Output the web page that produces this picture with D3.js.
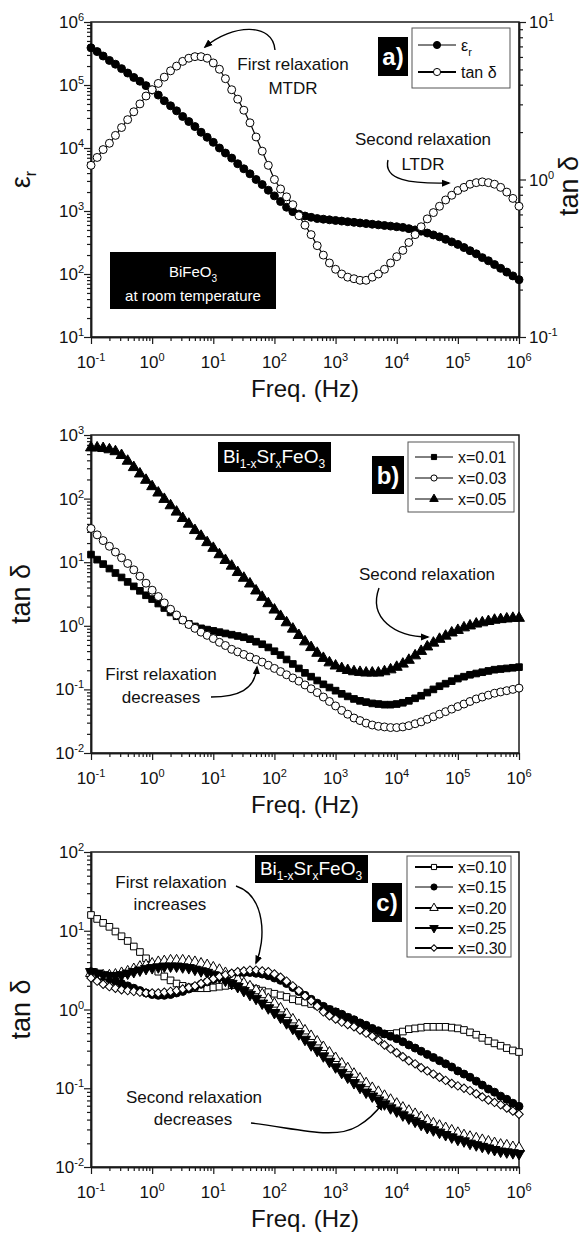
<!DOCTYPE html>
<html>
<head>
<meta charset="utf-8">
<script src="https://cdn.jsdelivr.net/npm/d3@7"></script>
<style>
  body { margin: 0; background: #fff; }
  svg { display: block; }
  text { font-family: "Liberation Sans", Arial, sans-serif; fill: #111; }
</style>
</head>
<body>
<svg id="chart" width="587" height="1235"></svg>
<script>
// measurement grid, 10 points per decade
var freq = [0.1,0.126,0.158,0.2,0.251,0.316,0.398,0.501,0.631,0.794,
  1,1.26,1.58,2,2.51,3.16,3.98,5.01,6.31,7.94,
  10,12.6,15.8,20,25.1,31.6,39.8,50.1,63.1,79.4,
  100,126,158,200,251,316,398,501,631,794,
  1e3,1.26e3,1.58e3,2e3,2.51e3,3.16e3,3.98e3,5.01e3,6.31e3,7.94e3,
  1e4,1.26e4,1.58e4,2e4,2.51e4,3.16e4,3.98e4,5.01e4,6.31e4,7.94e4,
  1e5,1.26e5,1.58e5,2e5,2.51e5,3.16e5,3.98e5,5.01e5,6.31e5,7.94e5,
  1e6];

// a) BiFeO3
var epsLog = [5.59,5.53,5.46,5.39,5.33,5.26,5.19,5.12,5.06,4.99,
  4.92,4.84,4.75,4.67,4.59,4.50,4.42,4.34,4.25,4.17,
  4.09,4.00,3.92,3.84,3.75,3.67,3.59,3.50,3.42,3.33,
  3.24,3.15,3.06,2.99,2.95,2.92,2.90,2.88,2.87,2.86,
  2.85,2.84,2.83,2.82,2.81,2.80,2.79,2.78,2.77,2.76,
  2.75,2.74,2.72,2.70,2.68,2.65,2.62,2.59,2.55,2.51,
  2.47,2.42,2.37,2.32,2.26,2.21,2.15,2.09,2.03,1.97,
  1.91];
var tanALog = [0.09,0.14,0.19,0.23,0.28,0.33,0.38,0.43,0.48,0.53,
  0.57,0.61,0.65,0.69,0.72,0.75,0.77,0.78,0.78,0.77,
  0.74,0.70,0.64,0.57,0.51,0.44,0.36,0.27,0.18,0.09,
  0.00,-0.06,-0.11,-0.16,-0.23,-0.29,-0.35,-0.42,-0.48,-0.53,
  -0.57,-0.60,-0.62,-0.63,-0.64,-0.64,-0.62,-0.60,-0.57,-0.53,
  -0.49,-0.45,-0.40,-0.35,-0.30,-0.25,-0.21,-0.17,-0.13,-0.10,
  -0.07,-0.05,-0.03,-0.02,-0.015,-0.02,-0.03,-0.05,-0.08,-0.12,
  -0.17];

// b) Bi1-xSrxFeO3, x = 0.01, 0.03, 0.05
var tanB001 = [1.12,1.04,0.97,0.90,0.83,0.76,0.69,0.62,0.55,0.48,
  0.42,0.35,0.28,0.21,0.15,0.09,0.03,-0.01,-0.04,-0.06,
  -0.08,-0.10,-0.12,-0.14,-0.16,-0.18,-0.21,-0.25,-0.29,-0.34,
  -0.40,-0.46,-0.53,-0.60,-0.67,-0.74,-0.80,-0.86,-0.92,-0.97,
  -1.02,-1.07,-1.11,-1.15,-1.18,-1.20,-1.22,-1.23,-1.24,-1.24,
  -1.23,-1.21,-1.18,-1.14,-1.10,-1.05,-1.00,-0.95,-0.91,-0.87,
  -0.83,-0.80,-0.77,-0.75,-0.73,-0.71,-0.69,-0.68,-0.67,-0.66,
  -0.65];
var tanB003 = [1.53,1.43,1.34,1.25,1.16,1.07,0.98,0.88,0.78,0.67,
  0.56,0.46,0.36,0.26,0.17,0.09,0.02,-0.04,-0.10,-0.15,
  -0.20,-0.26,-0.31,-0.37,-0.41,-0.45,-0.49,-0.53,-0.57,-0.62,
  -0.67,-0.72,-0.77,-0.82,-0.87,-0.93,-0.99,-1.05,-1.12,-1.19,
  -1.26,-1.33,-1.39,-1.45,-1.49,-1.53,-1.56,-1.58,-1.59,-1.60,
  -1.60,-1.59,-1.57,-1.54,-1.51,-1.47,-1.43,-1.39,-1.35,-1.31,
  -1.27,-1.23,-1.19,-1.15,-1.12,-1.09,-1.06,-1.04,-1.02,-1.00,
  -0.98];
var tanB005 = [2.80,2.80,2.79,2.77,2.74,2.68,2.59,2.49,2.39,2.29,
  2.19,2.09,1.99,1.89,1.79,1.69,1.60,1.50,1.41,1.31,
  1.22,1.12,1.03,0.94,0.84,0.75,0.66,0.55,0.45,0.35,
  0.25,0.15,0.05,-0.05,-0.15,-0.25,-0.34,-0.43,-0.51,-0.58,
  -0.63,-0.67,-0.70,-0.72,-0.73,-0.74,-0.74,-0.74,-0.72,-0.69,
  -0.65,-0.60,-0.54,-0.47,-0.40,-0.33,-0.27,-0.21,-0.16,-0.11,
  -0.07,-0.03,0.00,0.03,0.05,0.07,0.09,0.10,0.11,0.12,
  0.12];

// c) Bi1-xSrxFeO3, x = 0.10 ... 0.30
var tanC010 = [1.20,1.15,1.10,1.05,0.99,0.93,0.87,0.80,0.73,0.65,
  0.56,0.48,0.42,0.37,0.33,0.30,0.28,0.27,0.27,0.27,
  0.28,0.29,0.30,0.31,0.31,0.30,0.28,0.26,0.24,0.22,
  0.20,0.18,0.16,0.13,0.11,0.09,0.07,0.05,0.03,0.00,
  -0.03,-0.07,-0.10,-0.14,-0.18,-0.22,-0.26,-0.29,-0.31,-0.31,
  -0.30,-0.28,-0.25,-0.24,-0.23,-0.22,-0.22,-0.22,-0.22,-0.23,
  -0.24,-0.26,-0.29,-0.32,-0.36,-0.40,-0.43,-0.46,-0.49,-0.52,
  -0.54];
var tanC015 = [0.48,0.45,0.42,0.39,0.36,0.33,0.30,0.27,0.24,0.21,
  0.19,0.18,0.18,0.19,0.21,0.23,0.26,0.29,0.32,0.35,
  0.38,0.41,0.43,0.45,0.46,0.47,0.47,0.46,0.45,0.43,
  0.40,0.37,0.33,0.28,0.23,0.18,0.13,0.08,0.04,0.00,
  -0.03,-0.06,-0.10,-0.13,-0.17,-0.20,-0.24,-0.27,-0.31,-0.34,
  -0.37,-0.41,-0.45,-0.49,-0.53,-0.57,-0.61,-0.65,-0.69,-0.73,
  -0.78,-0.82,-0.86,-0.91,-0.96,-1.01,-1.05,-1.10,-1.14,-1.19,
  -1.23];
var tanC020 = [0.46,0.44,0.43,0.43,0.44,0.46,0.48,0.51,0.54,0.56,
  0.58,0.60,0.61,0.62,0.62,0.62,0.61,0.60,0.58,0.56,
  0.53,0.50,0.46,0.42,0.38,0.33,0.29,0.24,0.19,0.13,
  0.07,0.01,-0.06,-0.13,-0.20,-0.27,-0.34,-0.41,-0.48,-0.55,
  -0.62,-0.69,-0.75,-0.82,-0.88,-0.94,-1.00,-1.05,-1.10,-1.15,
  -1.20,-1.25,-1.29,-1.33,-1.37,-1.41,-1.45,-1.48,-1.51,-1.54,
  -1.57,-1.60,-1.62,-1.64,-1.66,-1.68,-1.70,-1.72,-1.73,-1.75,
  -1.76];
var tanC025 = [0.48,0.46,0.44,0.43,0.43,0.44,0.46,0.48,0.50,0.52,
  0.53,0.54,0.55,0.55,0.55,0.54,0.53,0.51,0.49,0.47,
  0.44,0.41,0.37,0.33,0.29,0.24,0.19,0.14,0.08,0.02,
  -0.04,-0.10,-0.17,-0.24,-0.31,-0.38,-0.45,-0.52,-0.59,-0.66,
  -0.73,-0.80,-0.86,-0.93,-0.99,-1.05,-1.10,-1.15,-1.20,-1.25,
  -1.29,-1.34,-1.38,-1.42,-1.46,-1.50,-1.53,-1.56,-1.59,-1.62,
  -1.65,-1.67,-1.70,-1.72,-1.74,-1.76,-1.78,-1.80,-1.81,-1.82,
  -1.83];
var tanC030 = [0.40,0.36,0.32,0.29,0.27,0.25,0.24,0.23,0.22,0.21,
  0.21,0.21,0.22,0.23,0.24,0.26,0.28,0.30,0.33,0.36,
  0.39,0.42,0.44,0.46,0.48,0.49,0.50,0.50,0.49,0.48,
  0.45,0.41,0.36,0.30,0.24,0.17,0.11,0.04,-0.03,-0.08,
  -0.12,-0.16,-0.19,-0.22,-0.26,-0.30,-0.34,-0.39,-0.45,-0.50,
  -0.55,-0.60,-0.65,-0.69,-0.74,-0.78,-0.82,-0.86,-0.90,-0.94,
  -0.97,-1.00,-1.03,-1.07,-1.11,-1.15,-1.18,-1.21,-1.25,-1.29,
  -1.33];

var legendB = ["x=0.01", "x=0.03", "x=0.05"];
var legendC = ["x=0.10", "x=0.15", "x=0.20", "x=0.25", "x=0.30"];

var svg = d3.select("#chart");
var left = 91, right = 519;
var x = d3.scaleLog().domain([0.1, 1e6]).range([left, right]);
var ink = "#1a1a1a";

var defs = svg.append("defs");
defs.append("marker")
    .attr("id", "head")
    .attr("viewBox", "0 0 10 10")
    .attr("refX", 8).attr("refY", 5)
    .attr("markerWidth", 9).attr("markerHeight", 9)
    .attr("markerUnits", "userSpaceOnUse")
    .attr("orient", "auto")
  .append("path")
    .attr("d", "M0,1 L10,5 L0,9 Z")
    .attr("fill", "#000");

////////// helpers //////////

function powText(sel, e) {
  sel.append("tspan").text("10");
  sel.append("tspan").attr("dy", -7).attr("font-size", 11).text(e < 0 ? "-" + (-e) : e);
}

function logTicks(lo, hi) {
  var majors = [], minors = [];
  for (var e = lo; e <= hi; e++) {
    majors.push(Math.pow(10, e));
    if (e < hi) for (var m = 2; m < 10; m++) minors.push(m * Math.pow(10, e));
  }
  return {majors: majors, minors: minors};
}

function styleAxis(g) {
  g.select(".domain").attr("stroke", ink).attr("stroke-width", 1.5);
  g.selectAll(".tick line").attr("stroke", ink).attr("stroke-width", 1.2);
}

function drawAxes(top, bottom, y, ylo, yhi, yTitle) {
  var g = svg.append("g");
  var tx = logTicks(-1, 6);

  // frame
  g.append("rect")
    .attr("x", left).attr("y", top)
    .attr("width", right - left).attr("height", bottom - top)
    .attr("fill", "none").attr("stroke", ink).attr("stroke-width", 1.5);

  // x axis
  g.append("g").attr("transform", "translate(0," + bottom + ")")
    .call(d3.axisBottom(x).tickValues(tx.minors).tickSize(4).tickSizeOuter(0).tickFormat(""))
    .call(styleAxis);
  g.append("g").attr("transform", "translate(0," + bottom + ")")
    .call(d3.axisBottom(x).tickValues(tx.majors).tickSize(7).tickSizeOuter(0).tickFormat(""))
    .call(styleAxis);
  tx.majors.forEach(function(v, i) {
    g.append("text")
      .attr("x", x(v)).attr("y", bottom + 31)
      .attr("text-anchor", "middle").attr("font-size", 17)
      .call(powText, i - 1);
  });
  g.append("text")
    .attr("x", (left + right) / 2).attr("y", bottom + 60)
    .attr("text-anchor", "middle").attr("font-size", 24)
    .text("Freq. (Hz)");

  // left y axis
  var ty = logTicks(ylo, yhi);
  g.append("g").attr("transform", "translate(" + left + ",0)")
    .call(d3.axisLeft(y).tickValues(ty.minors).tickSize(4).tickSizeOuter(0).tickFormat(""))
    .call(styleAxis);
  g.append("g").attr("transform", "translate(" + left + ",0)")
    .call(d3.axisLeft(y).tickValues(ty.majors).tickSize(7).tickSizeOuter(0).tickFormat(""))
    .call(styleAxis);
  ty.majors.forEach(function(v, i) {
    g.append("text")
      .attr("x", left - 7).attr("y", y(v) + 6)
      .attr("text-anchor", "end").attr("font-size", 17)
      .call(powText, ylo + i);
  });

  var t = g.append("text")
    .attr("transform", "translate(30," + (top + bottom) / 2 + ") rotate(-90)")
    .attr("text-anchor", "middle").attr("font-size", 27);
  yTitle(t);
  return g;
}

var shapes = {
  circle: {type: d3.symbolCircle, size: 50, rot: 0},
  square: {type: d3.symbolSquare, size: 44, rot: 0},
  triUp: {type: d3.symbolTriangle, size: 52, rot: 0},
  triDown: {type: d3.symbolTriangle, size: 52, rot: 180},
  diamond: {type: d3.symbolSquare, size: 36, rot: 45}
};

function drawSeries(g, y, logs, shape, filled, lw) {
  var pts = freq.map(function(f, i) { return [x(f), y(Math.pow(10, logs[i]))]; });
  g.append("path")
    .attr("d", d3.line()(pts))
    .attr("fill", "none").attr("stroke", "#000").attr("stroke-width", lw);
  var s = shapes[shape];
  g.append("g").selectAll("path")
    .data(pts)
    .enter().append("path")
      .attr("transform", function(d) { return "translate(" + d[0] + "," + d[1] + ") rotate(" + s.rot + ")"; })
      .attr("d", d3.symbol().type(s.type).size(s.size))
      .attr("fill", filled ? "#000" : "#fff")
      .attr("stroke", "#000").attr("stroke-width", 1);
}

function legendRow(g, x0, yy, shape, filled, lw, label, size) {
  var s = shapes[shape];
  g.append("line")
    .attr("x1", x0).attr("x2", x0 + 38).attr("y1", yy).attr("y2", yy)
    .attr("stroke", "#000").attr("stroke-width", lw);
  g.append("path")
    .attr("transform", "translate(" + (x0 + 19) + "," + yy + ") rotate(" + s.rot + ")")
    .attr("d", d3.symbol().type(s.type).size(size || s.size * 0.6))
    .attr("fill", filled ? "#000" : "#fff").attr("stroke", "#000");
  var t = g.append("text").attr("x", x0 + 43).attr("y", yy + 6).attr("font-size", 16);
  if (typeof label === "function") label(t); else t.text(label);
}

function blackBox(g, bx, by, bw, bh) {
  g.append("rect").attr("x", bx).attr("y", by).attr("width", bw).attr("height", bh).attr("fill", "#000");
}

function arrow(g, d) {
  g.append("path").attr("d", d)
    .attr("fill", "none").attr("stroke", "#000").attr("stroke-width", 1.4)
    .attr("marker-end", "url(#head)");
}

// chemical formula with subscripts: pieces alternate normal / subscript
function formula(t, pieces, subSize) {
  var shift = 0;
  pieces.forEach(function(p, i) {
    var isSub = i % 2 === 1;
    var dy = isSub ? 5 : (shift ? -5 : 0);
    var ts = t.append("tspan").attr("dy", dy).text(p);
    if (isSub) ts.attr("font-size", subSize);
    shift = isSub ? 1 : 0;
  });
}

////////// panel a //////////

var yA = d3.scaleLog().domain([10, 1e6]).range([337, 22]);
var yA2 = d3.scaleLog().domain([0.1, 10]).range([337, 22]);
var gA = drawAxes(22, 337, yA, 1, 6, function(t) {
  t.append("tspan").text("\u03b5");
  t.append("tspan").attr("dy", 6).attr("font-size", 16).text("r");
});

// right axis for tan delta
var tr = logTicks(-1, 1);
gA.append("g").attr("transform", "translate(" + right + ",0)")
  .call(d3.axisRight(yA2).tickValues(tr.minors).tickSize(4).tickSizeOuter(0).tickFormat(""))
  .call(styleAxis);
gA.append("g").attr("transform", "translate(" + right + ",0)")
  .call(d3.axisRight(yA2).tickValues(tr.majors).tickSize(7).tickSizeOuter(0).tickFormat(""))
  .call(styleAxis);
tr.majors.forEach(function(v, i) {
  gA.append("text")
    .attr("x", right + 10).attr("y", yA2(v) + 6)
    .attr("font-size", 17)
    .call(powText, i - 1);
});
gA.append("text")
  .attr("transform", "translate(578,186) rotate(-90)")
  .attr("text-anchor", "middle").attr("font-size", 27)
  .text("tan \u03b4");

drawSeries(gA, yA, epsLog, "circle", true, 1);
drawSeries(gA, yA2, tanALog, "circle", false, 1.2);

gA.append("text").attr("x", 293).attr("y", 70).attr("text-anchor", "middle").attr("font-size", 17).text("First relaxation");
gA.append("text").attr("x", 293).attr("y", 94).attr("text-anchor", "middle").attr("font-size", 17).text("MTDR");
arrow(gA, "M275,50 C273,22 232,24 205,47");
gA.append("text").attr("x", 423).attr("y", 145).attr("text-anchor", "middle").attr("font-size", 17).text("Second relaxation");
gA.append("text").attr("x", 423).attr("y", 170).attr("text-anchor", "middle").attr("font-size", 17).text("LTDR");
arrow(gA, "M388,160 C383,180 410,184 449,183");

blackBox(gA, 378, 37, 30, 39);
gA.append("text").attr("x", 393).attr("y", 65).attr("text-anchor", "middle")
  .attr("font-size", 24).attr("font-weight", "bold").style("fill", "#fff").text("a)");

gA.append("rect").attr("x", 412).attr("y", 28).attr("width", 98).attr("height", 60)
  .attr("fill", "#fff").attr("stroke", "#555");
legendRow(gA, 418, 45, "circle", true, 1, function(t) {
  t.append("tspan").text("\u03b5");
  t.append("tspan").attr("dy", 5).attr("font-size", 11).text("r");
}, 40);
legendRow(gA, 418, 72, "circle", false, 2, "tan \u03b4", 40);

blackBox(gA, 110, 252, 166, 57);
gA.append("text").attr("x", 193).attr("y", 277).attr("text-anchor", "middle")
  .attr("font-size", 15).style("fill", "#fff")
  .call(formula, ["BiFeO", "3"], 10);
gA.append("text").attr("x", 193).attr("y", 301).attr("text-anchor", "middle")
  .attr("font-size", 15).style("fill", "#fff").text("at room temperature");

////////// panel b //////////

var yB = d3.scaleLog().domain([0.01, 1000]).range([753, 435]);
var gB = drawAxes(435, 753, yB, -2, 3, function(t) { t.text("tan \u03b4"); });

drawSeries(gB, yB, tanB001, "square", true, 1);
drawSeries(gB, yB, tanB003, "circle", false, 1);
drawSeries(gB, yB, tanB005, "triUp", true, 1);

blackBox(gB, 218, 442, 113, 30);
gB.append("text").attr("x", 274).attr("y", 463).attr("text-anchor", "middle")
  .attr("font-size", 19).style("fill", "#fff")
  .call(formula, ["Bi", "1-x", "Sr", "x", "FeO", "3"], 12);

blackBox(gB, 372, 456, 32, 38);
gB.append("text").attr("x", 388).attr("y", 484).attr("text-anchor", "middle")
  .attr("font-size", 24).attr("font-weight", "bold").style("fill", "#fff").text("b)");

gB.append("rect").attr("x", 408).attr("y", 442).attr("width", 106).attr("height", 70)
  .attr("fill", "#fff").attr("stroke", "#555");
legendRow(gB, 415, 457, "square", true, 1, legendB[0]);
legendRow(gB, 415, 478, "circle", false, 1, legendB[1]);
legendRow(gB, 415, 499, "triUp", true, 1, legendB[2]);

gB.append("text").attr("x", 427).attr("y", 580).attr("text-anchor", "middle").attr("font-size", 17).text("Second relaxation");
arrow(gB, "M379,588 C368,618 395,637 428,637");
gB.append("text").attr("x", 161).attr("y", 680).attr("text-anchor", "middle").attr("font-size", 17).text("First relaxation");
gB.append("text").attr("x", 161).attr("y", 703).attr("text-anchor", "middle").attr("font-size", 17).text("decreases");
arrow(gB, "M211,697 C238,697 255,690 257,667");

////////// panel c //////////

var yC = d3.scaleLog().domain([0.01, 100]).range([1167, 852]);
var gC = drawAxes(852, 1167, yC, -2, 2, function(t) { t.text("tan \u03b4"); });

drawSeries(gC, yC, tanC010, "square", false, 1);
drawSeries(gC, yC, tanC015, "circle", true, 1);
drawSeries(gC, yC, tanC020, "triUp", false, 1);
drawSeries(gC, yC, tanC025, "triDown", true, 1);
drawSeries(gC, yC, tanC030, "diamond", false, 1);

blackBox(gC, 255, 855, 113, 28);
gC.append("text").attr("x", 311).attr("y", 875).attr("text-anchor", "middle")
  .attr("font-size", 19).style("fill", "#fff")
  .call(formula, ["Bi", "1-x", "Sr", "x", "FeO", "3"], 12);

blackBox(gC, 372, 883, 30, 39);
gC.append("text").attr("x", 387).attr("y", 911).attr("text-anchor", "middle")
  .attr("font-size", 24).attr("font-weight", "bold").style("fill", "#fff").text("c)");

gC.append("rect").attr("x", 407).attr("y", 856).attr("width", 104).attr("height", 101)
  .attr("fill", "#fff").attr("stroke", "#555");
legendRow(gC, 415, 867, "square", false, 2, legendC[0]);
legendRow(gC, 415, 887, "circle", true, 1, legendC[1]);
legendRow(gC, 415, 908, "triUp", false, 2, legendC[2]);
legendRow(gC, 415, 928, "triDown", true, 2, legendC[3]);
legendRow(gC, 415, 948, "diamond", false, 2, legendC[4]);

gC.append("text").attr("x", 171).attr("y", 888).attr("text-anchor", "middle").attr("font-size", 17).text("First relaxation");
gC.append("text").attr("x", 170).attr("y", 910).attr("text-anchor", "middle").attr("font-size", 17).text("increases");
arrow(gC, "M236,886 C266,896 266,940 256,963");
gC.append("text").attr("x", 194).attr("y", 1103).attr("text-anchor", "middle").attr("font-size", 17).text("Second relaxation");
gC.append("text").attr("x", 193).attr("y", 1125).attr("text-anchor", "middle").attr("font-size", 17).text("decreases");
arrow(gC, "M251,1123 C300,1129 335,1140 358,1126 C370,1119 377,1111 383,1103");
</script>
</body>
</html>
